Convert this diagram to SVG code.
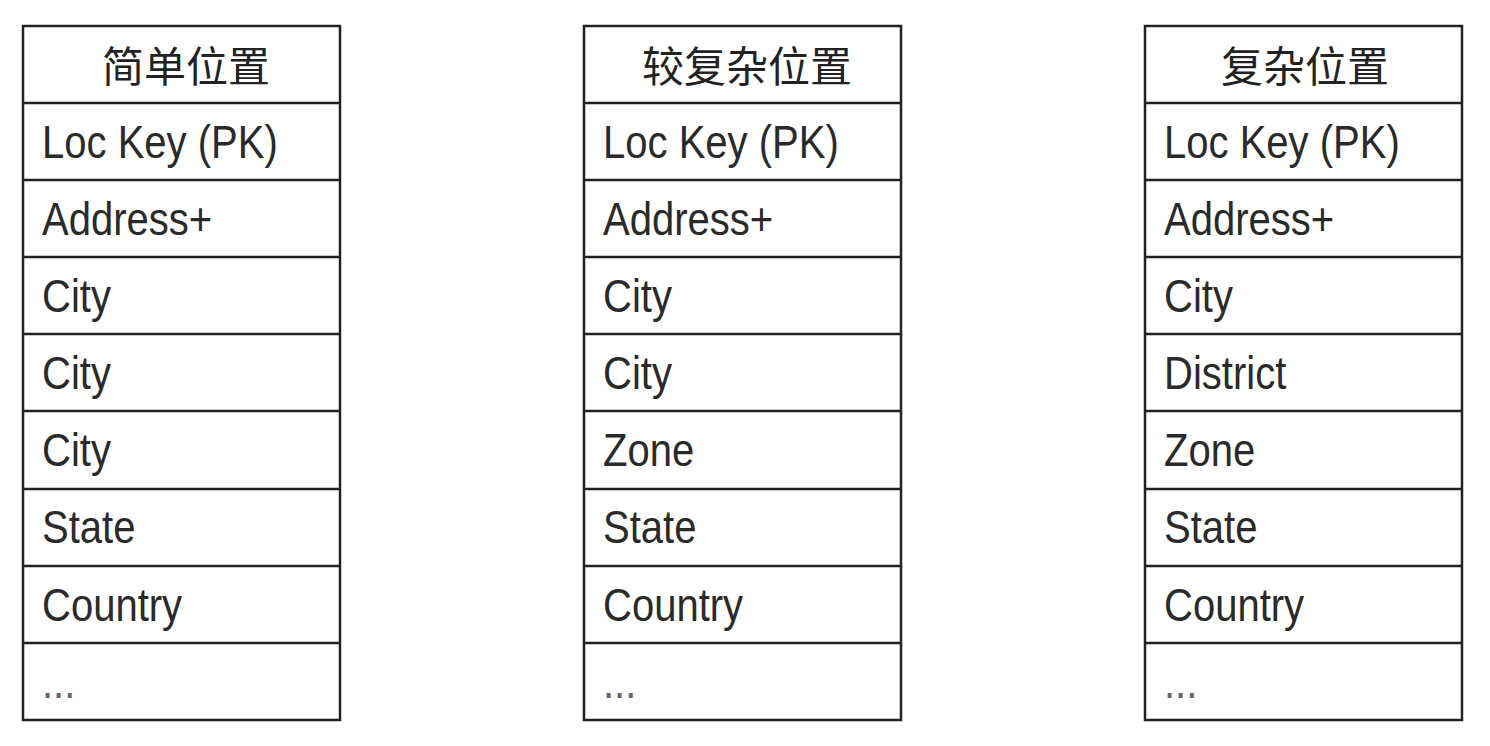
<svg xmlns="http://www.w3.org/2000/svg" width="1490" height="746" viewBox="0 0 1490 746">
<style>
.box{fill:#fff;stroke:#222;stroke-width:2.5}
.ln{stroke:#222;stroke-width:2.5}
.hd{font-family:"Noto Sans CJK SC","Noto Sans",sans-serif;font-size:42px;fill:#222;text-anchor:middle}
.tx{font-family:"Liberation Sans",Arial,sans-serif;font-size:46px;fill:#2a2a2a}
.dots{fill:#666}
</style>
<rect width="1490" height="746" fill="#fff"/>
<defs>
<g id="grid">
<rect class="box" x="0" y="0" width="317" height="694"/>
<line class="ln" x1="0" y1="77" x2="317" y2="77"/>
<line class="ln" x1="0" y1="154" x2="317" y2="154"/>
<line class="ln" x1="0" y1="231" x2="317" y2="231"/>
<line class="ln" x1="0" y1="308" x2="317" y2="308"/>
<line class="ln" x1="0" y1="385" x2="317" y2="385"/>
<line class="ln" x1="0" y1="463" x2="317" y2="463"/>
<line class="ln" x1="0" y1="540" x2="317" y2="540"/>
<line class="ln" x1="0" y1="617" x2="317" y2="617"/>
</g>
</defs>
<g id="table-simple">
<use href="#grid" x="23" y="26"/>
<text class="hd" x="186" y="82">简单位置</text>
<g transform="translate(42 0) scale(0.87 1)" class="tx">
<text x="0" y="158">Loc Key (PK)</text>
<text x="0" y="235">Address+</text>
<text x="0" y="312">City</text>
<text x="0" y="389">City</text>
<text x="0" y="466">City</text>
<text x="0" y="543">State</text>
<text x="0" y="621">Country</text>
<text class="dots" x="0" y="698">...</text>
</g>
</g>
<g id="table-medium">
<use href="#grid" x="584" y="26"/>
<text class="hd" x="747" y="82">较复杂位置</text>
<g transform="translate(603 0) scale(0.87 1)" class="tx">
<text x="0" y="158">Loc Key (PK)</text>
<text x="0" y="235">Address+</text>
<text x="0" y="312">City</text>
<text x="0" y="389">City</text>
<text x="0" y="466">Zone</text>
<text x="0" y="543">State</text>
<text x="0" y="621">Country</text>
<text class="dots" x="0" y="698">...</text>
</g>
</g>
<g id="table-complex">
<use href="#grid" x="1145" y="26"/>
<text class="hd" x="1305" y="82">复杂位置</text>
<g transform="translate(1164 0) scale(0.87 1)" class="tx">
<text x="0" y="158">Loc Key (PK)</text>
<text x="0" y="235">Address+</text>
<text x="0" y="312">City</text>
<text x="0" y="389">District</text>
<text x="0" y="466">Zone</text>
<text x="0" y="543">State</text>
<text x="0" y="621">Country</text>
<text class="dots" x="0" y="698">...</text>
</g>
</g>
<g id="connectors"></g>
</svg>
